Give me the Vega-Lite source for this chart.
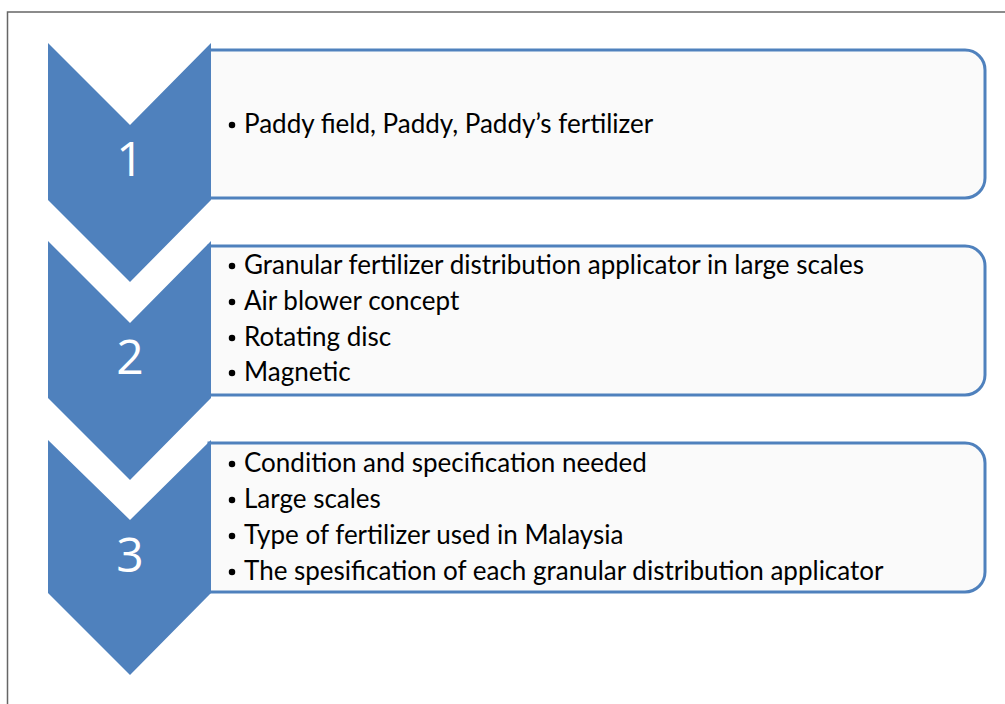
{
  "$schema": "https://vega.github.io/schema/vega-lite/v6.json",
  "width": 1005,
  "height": 704,
  "autosize": {"type": "none"},
  "padding": 0,
  "background": "white",
  "view": {"stroke": null},
  "config": {"axis": {"disable": true}},
  "datasets": {
    "frame": [{"x1": 7.5, "x2": 1020, "y1": 12, "y2": 720}],
    "boxes": [
      {"step": 1, "x1": 209, "x2": 985, "y1": 50, "y2": 198},
      {"step": 2, "x1": 209, "x2": 985, "y1": 246, "y2": 395},
      {"step": 3, "x1": 209, "x2": 985, "y1": 443, "y2": 592}
    ],
    "chevrons": [
      {"step": 1, "x": 48, "top": 43, "bottom": 200},
      {"step": 1, "x": 130, "top": 125, "bottom": 282},
      {"step": 1, "x": 211, "top": 43, "bottom": 200},
      {"step": 2, "x": 48, "top": 241, "bottom": 398},
      {"step": 2, "x": 130, "top": 323, "bottom": 480},
      {"step": 2, "x": 211, "top": 241, "bottom": 398},
      {"step": 3, "x": 48, "top": 440, "bottom": 593},
      {"step": 3, "x": 130, "top": 520, "bottom": 675},
      {"step": 3, "x": 211, "top": 440, "bottom": 593}
    ],
    "numbers": [
      {"step": 1, "x": 130, "y": 162, "label": "1"},
      {"step": 2, "x": 130, "y": 360, "label": "2"},
      {"step": 3, "x": 130, "y": 558, "label": "3"}
    ],
    "lines": [
      {"step": 1, "x": 244, "y": 125, "text": "Paddy field, Paddy, Paddy’s fertilizer"},
      {"step": 2, "x": 244, "y": 266, "text": "Granular fertilizer distribution applicator in large scales"},
      {"step": 2, "x": 244, "y": 302, "text": "Air blower concept"},
      {"step": 2, "x": 244, "y": 338, "text": "Rotating disc"},
      {"step": 2, "x": 244, "y": 373, "text": "Magnetic"},
      {"step": 3, "x": 244, "y": 464, "text": "Condition and specification needed"},
      {"step": 3, "x": 244, "y": 500, "text": "Large scales"},
      {"step": 3, "x": 244, "y": 536, "text": "Type of fertilizer used in Malaysia"},
      {"step": 3, "x": 244, "y": 572, "text": "The spesification of each granular distribution applicator"}
    ]
  },
  "resolve": {"scale": {"x": "shared", "y": "shared"}},
  "layer": [
    {
      "data": {"name": "frame"},
      "mark": {"type": "rect", "fill": null, "stroke": "#666666", "strokeWidth": 1.5},
      "encoding": {
        "x": {"field": "x1", "type": "quantitative", "scale": {"domain": [0, 1005], "range": [0, 1005], "nice": false, "zero": false}},
        "x2": {"field": "x2"},
        "y": {"field": "y1", "type": "quantitative", "scale": {"domain": [0, 704], "range": [0, 704], "nice": false, "zero": false}},
        "y2": {"field": "y2"}
      }
    },
    {
      "data": {"name": "boxes"},
      "mark": {"type": "rect", "fill": "#FAFAFA", "stroke": "#4F81BD", "strokeWidth": 3, "cornerRadiusTopRight": 20, "cornerRadiusBottomRight": 20},
      "encoding": {
        "x": {"field": "x1", "type": "quantitative"},
        "x2": {"field": "x2"},
        "y": {"field": "y1", "type": "quantitative"},
        "y2": {"field": "y2"}
      }
    },
    {
      "data": {"name": "chevrons"},
      "mark": {"type": "area", "color": "#4F81BD", "opacity": 1, "fillOpacity": 1},
      "encoding": {
        "x": {"field": "x", "type": "quantitative"},
        "y": {"field": "top", "type": "quantitative"},
        "y2": {"field": "bottom"},
        "detail": {"field": "step", "type": "nominal"}
      }
    },
    {
      "data": {"name": "numbers"},
      "mark": {"type": "text", "color": "white", "font": "Open Sans", "fontSize": 48, "fontWeight": 400, "align": "center", "baseline": "middle"},
      "encoding": {
        "x": {"field": "x", "type": "quantitative"},
        "y": {"field": "y", "type": "quantitative"},
        "text": {"field": "label"}
      }
    },
    {
      "data": {"name": "lines"},
      "mark": {"type": "point", "filled": true, "color": "black", "size": 42, "opacity": 1, "xOffset": -12},
      "encoding": {
        "x": {"field": "x", "type": "quantitative"},
        "y": {"field": "y", "type": "quantitative"}
      }
    },
    {
      "data": {"name": "lines"},
      "mark": {"type": "text", "color": "black", "font": "Lato", "fontSize": 26, "align": "left", "baseline": "middle"},
      "encoding": {
        "x": {"field": "x", "type": "quantitative"},
        "y": {"field": "y", "type": "quantitative"},
        "text": {"field": "text"}
      }
    }
  ]
}
